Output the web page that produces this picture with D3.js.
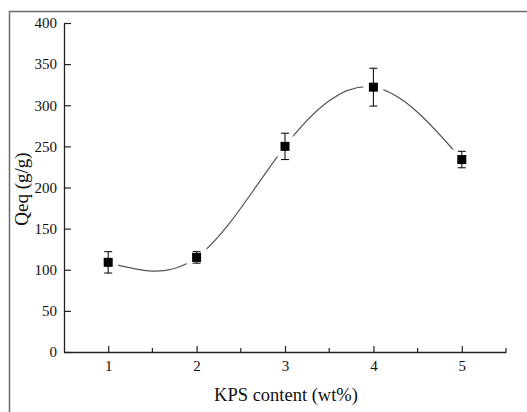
<!doctype html>
<html>
<head>
  <meta charset="UTF-8">
  <title>Qeq vs KPS content</title>
  <script src="https://cdnjs.cloudflare.com/ajax/libs/d3/7.8.5/d3.min.js"></script>
  <style>
    body { margin: 0; background: #fff; }
    svg text { font-family: "Liberation Serif", "Times New Roman", serif; fill: #111; }
  </style>
</head>
<body>
<div id="chart"></div>
<script>
  // data
  var kps = [1, 2, 3, 4, 5];
  var qeq = [109, 115, 250, 322, 234];
  var qeqErr = [13, 7, 16, 23, 10];
  var yTicks = [0, 50, 100, 150, 200, 250, 300, 350, 400];
  var xTicks = [1, 2, 3, 4, 5];

  var w = 527, h = 412;
  var mLeft = 64, mRight = 506, mTop = 23, mBottom = 352;

  var svg = d3.select("#chart").append("svg")
    .attr("width", w)
    .attr("height", h);

  // outer frame (cropped)
  svg.append("path")
    .attr("d", "M9.5," + h + "V11.5H" + w)
    .attr("fill", "none")
    .attr("stroke", "#6a6a6a")
    .attr("stroke-width", 1.5);

  var x = d3.scaleLinear().domain([0.5, 5.5]).range([mLeft, mRight]);
  var y = d3.scaleLinear().domain([0, 400]).range([mBottom, mTop]);

  // y axis
  var yAxis = svg.append("g").attr("transform", "translate(" + mLeft + ",0)")
    .call(d3.axisLeft(y).tickValues(yTicks).tickSizeInner(-7).tickSizeOuter(0).tickPadding(7));
  yAxis.select(".domain").attr("stroke", "#222").attr("stroke-width", 1.3);
  yAxis.selectAll(".tick line").attr("stroke", "#222").attr("stroke-width", 1.2);
  yAxis.selectAll("text").attr("font-size", 15).attr("font-family", "Liberation Serif, serif").attr("fill", "#111");

  // x axis
  var xAxis = svg.append("g").attr("transform", "translate(0," + mBottom + ")")
    .call(d3.axisBottom(x).tickValues(xTicks).tickFormat(d3.format("d"))
      .tickSizeInner(-6).tickSizeOuter(0).tickPadding(8));
  xAxis.select(".domain").attr("stroke", "#222").attr("stroke-width", 1.3);
  xAxis.selectAll(".tick line").attr("stroke", "#222").attr("stroke-width", 1.2);
  xAxis.selectAll("text").attr("font-size", 15).attr("font-family", "Liberation Serif, serif").attr("fill", "#111");

  // minor x ticks
  var minor = d3.range(1.5, 5.6, 1);
  svg.append("g").selectAll("line").data(minor).enter().append("line")
    .attr("x1", function(d) { return x(d); })
    .attr("x2", function(d) { return x(d); })
    .attr("y1", mBottom)
    .attr("y2", mBottom - 4)
    .attr("stroke", "#222")
    .attr("stroke-width", 1.2);

  // smooth curve
  var pts = kps.map(function(k, i) { return [k, qeq[i]]; });
  var line = d3.line()
    .x(function(d) { return x(d[0]); })
    .y(function(d) { return y(d[1]); })
    .curve(d3.curveNatural);
  svg.append("path")
    .attr("d", line(pts))
    .attr("fill", "none")
    .attr("stroke", "#555")
    .attr("stroke-width", 1.2);

  // gaps around markers
  svg.append("g").selectAll("rect").data(pts).enter().append("rect")
    .attr("x", function(d) { return x(d[0]) - 10; })
    .attr("y", function(d) { return y(d[1]) - 10; })
    .attr("width", 20)
    .attr("height", 20)
    .attr("fill", "#fff");

  // error bars
  var eb = svg.append("g").attr("stroke", "#111").attr("stroke-width", 1.1);
  pts.forEach(function(d, i) {
    var cx = x(d[0]), hi = y(d[1] + qeqErr[i]), lo = y(d[1] - qeqErr[i]);
    eb.append("line").attr("x1", cx).attr("x2", cx).attr("y1", hi).attr("y2", lo);
    eb.append("line").attr("x1", cx - 4).attr("x2", cx + 4).attr("y1", hi).attr("y2", hi);
    eb.append("line").attr("x1", cx - 4).attr("x2", cx + 4).attr("y1", lo).attr("y2", lo);
  });

  // markers
  svg.append("g").selectAll("rect").data(pts).enter().append("rect")
    .attr("x", function(d) { return x(d[0]) - 4.5; })
    .attr("y", function(d) { return y(d[1]) - 4.5; })
    .attr("width", 9)
    .attr("height", 9)
    .attr("fill", "#000");

  // axis titles
  svg.append("text")
    .attr("x", 286)
    .attr("y", 401)
    .attr("text-anchor", "middle")
    .attr("font-size", 18.5)
    .text("KPS content (wt%)");

  svg.append("text")
    .attr("transform", "translate(28,189) rotate(-90)")
    .attr("text-anchor", "middle")
    .attr("font-size", 19)
    .text("Qeq (g/g)");
</script>
</body>
</html>
